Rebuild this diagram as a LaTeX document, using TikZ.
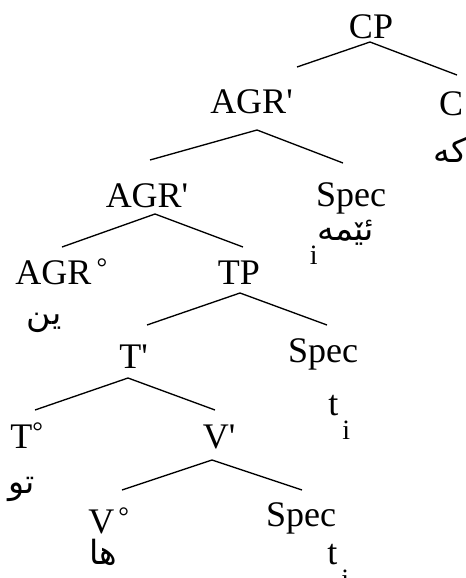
\documentclass[tikz,border=0pt]{standalone}
\usepackage{fontspec}
\setmainfont{Liberation Serif}
\newfontfamily\arabicfont[Script=Arabic]{DejaVu Sans}
\TeXXeTstate=1
\newcommand{\kurd}[1]{{\arabicfont\fontsize{25}{28}\selectfont\beginR #1\endR}}
\newcommand{\hd}{\raisebox{6pt}{\fontsize{20}{20}\selectfont °}}
\newcommand{\ix}[1]{\raisebox{-18pt}{\fontsize{21}{21}\selectfont #1}}
\newcommand{\pr}{\textquotesingle}

\begin{document}
\begin{tikzpicture}[x=0.75pt,y=-0.75pt,
    lbl/.style={inner sep=0pt,anchor=base,font=\fontsize{27}{30}\selectfont},
    branch/.style={line width=1pt}]
    \useasboundingbox (0,0) rectangle (466,578);

    \node[lbl] (CP) at (371,38) {CP};
    \node[lbl] (AGR1) at (251.5,113) {AGR\pr};
    \node[lbl] (C) at (451,115) {C};
    \node[lbl] (ke) at (450,162) {\kurd{كه}};
    \node[lbl] (AGR2) at (147,207) {AGR\pr};
    \node[lbl] (spec1) at (351,206) {Spec};
    \node[lbl] (eme) at (342,240) {\ix{i}\kurd{ئێمه}};
    \node[lbl,anchor=base west] (AGR0) at (15,284) {AGR\hspace{4pt}\hd};
    \node[lbl] (yn) at (44,324) {\kurd{ین}};
    \node[lbl] (TP) at (239,284) {TP};
    \node[lbl] (Tbar) at (133.5,368) {T\pr};
    \node[lbl] (spec2) at (323,362) {Spec};
    \node[lbl,anchor=base west] (t1) at (328,415) {t\hspace{3pt}\ix{i}};
    \node[lbl,anchor=base west] (T0) at (10,448) {T\hd};
    \node[lbl] (Vbar) at (219,448) {V\pr};
    \node[lbl] (tu) at (22,493) {\kurd{تو}};
    \node[lbl,anchor=base west] (V0) at (88,533) {V\hspace{3pt}\hd};
    \node[lbl] (spec3) at (301,526) {Spec};
    \node[lbl] (ha) at (103,564) {\kurd{ها}};
    \node[lbl,anchor=base west] (t3) at (327,564) {t\hspace{3pt}\ix{i}};

    % branches: parent anchor / offset / child anchor / offset
    \foreach \u/\du/\v/\dv in {
        CP.base/{-1,4}/AGR1.base/{45.5,-46}, CP.base/{-1,4}/C.base/{6,-40},
        AGR1.base/{5.5,17}/AGR2.base/{3,-47}, AGR1.base/{5.5,17}/spec1.base/{-8,-43},
        AGR2.base/{8,7}/AGR0.base west/{47,-37}, AGR2.base/{8,7}/TP.base/{4,-37},
        TP.base/{1,9}/Tbar.base/{13.5,-43}, TP.base/{1,9}/spec2.base/{4,-37},
        Tbar.base/{-5.5,10}/T0.base west/{25,-38}, Tbar.base/{-5.5,10}/Vbar.base/{-4,-38},
        Vbar.base/{-7,12}/V0.base west/{34,-43}, Vbar.base/{-7,12}/spec3.base/{1,-36}}
        \draw[branch] ([shift={(\du)}]\u) -- ([shift={(\dv)}]\v);
\end{tikzpicture}
\end{document}
